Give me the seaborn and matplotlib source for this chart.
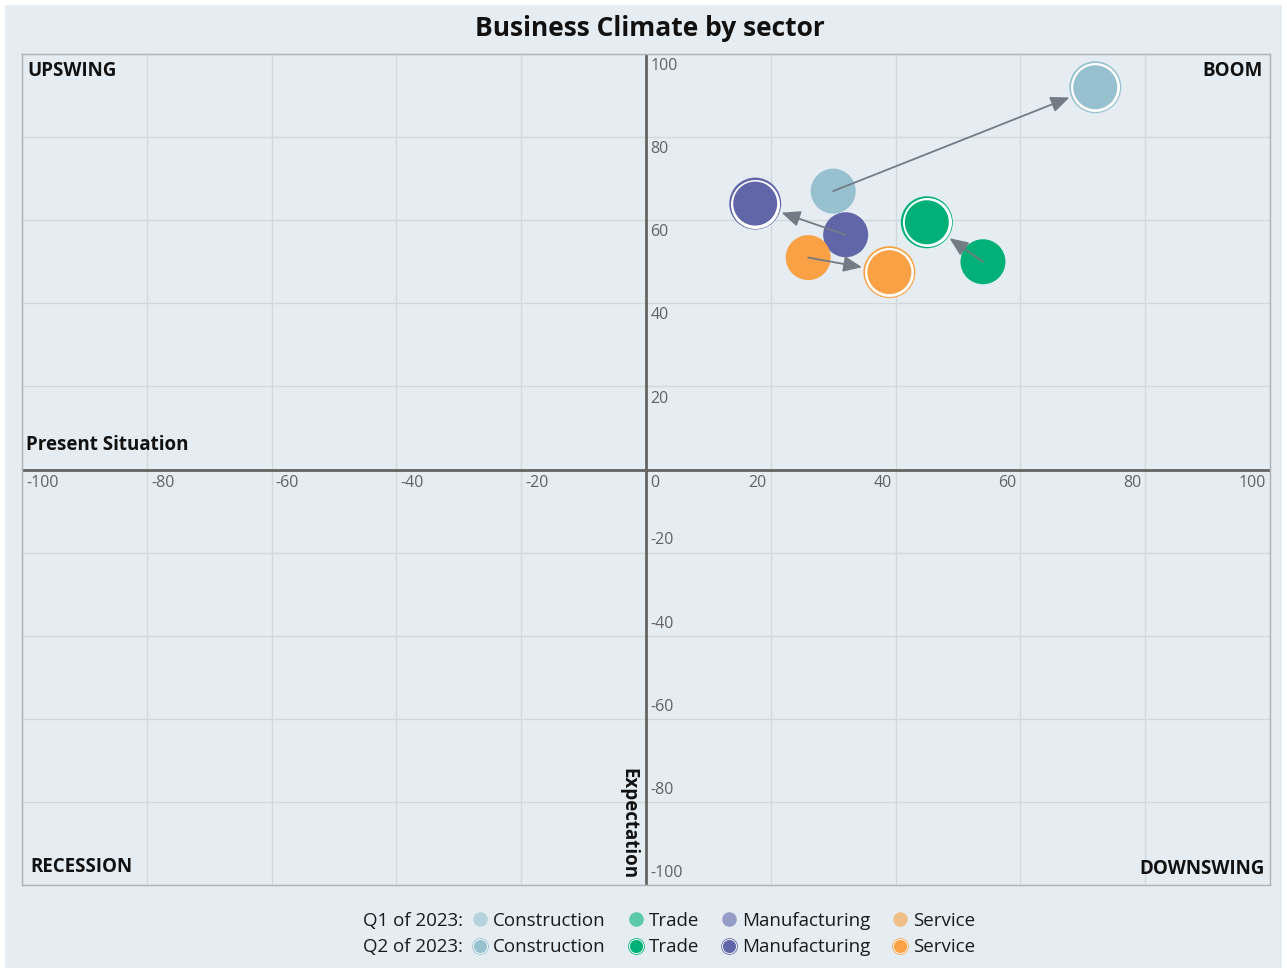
import pandas as pd
import matplotlib.pyplot as plt
import seaborn as sns
from matplotlib.lines import Line2D
from matplotlib.patches import Rectangle
from matplotlib.legend_handler import HandlerTuple

# Business climate: present situation (x) vs expectation (y)
sectors = ["Construction", "Trade", "Manufacturing", "Service"]
colors = ["#97c1cf", "#00b077", "#6066a8", "#f9a144"]
q1_situation = [30, 54, 32, 26]
q1_expectation = [67, 50, 56.5, 51]
q2_situation = [72, 45, 17.5, 39]
q2_expectation = [92, 59.5, 64, 47.5]
ticks = list(range(-100, 101, 20))
tick_labels = [str(t) for t in ticks]
periods = ["Q1 of 2023:", "Q2 of 2023:"]

q1 = pd.DataFrame({"sector": sectors, "x": q1_situation, "y": q1_expectation})
q2 = pd.DataFrame({"sector": sectors, "x": q2_situation, "y": q2_expectation})
palette = dict(zip(sectors, colors))

sns.set_style("white")
plt.rcParams["font.family"] = ["Open Sans", "DejaVu Sans"]

bg = "#e5edf2"
fig = plt.figure(figsize=(12.87, 9.73), dpi=100, facecolor="white")
fig.patches.append(Rectangle((5 / 1287, 5 / 973), 1 - 10 / 1287, 1 - 10 / 973,
                             transform=fig.transFigure, facecolor=bg,
                             edgecolor="none", zorder=-10))
ax = fig.add_axes([22 / 1287, 88 / 973, 1248 / 1287, 831 / 973])
ax.set_facecolor(bg)
ax.set_xlim(-100, 100)
ax.set_ylim(-100, 100)
ax.set_xticks(ticks)
ax.set_yticks(ticks)
ax.tick_params(length=0, labelbottom=False, labelleft=False)
ax.grid(True, color="#d2d9dc", lw=1)
ax.set_axisbelow(True)
for sp in ax.spines.values():
    sp.set_color("#aeb3b6")
    sp.set_linewidth(1)

ax.axhline(0, color="#646464", lw=2, zorder=1.5)
ax.axvline(0, color="#646464", lw=2, zorder=1.5)

# tick labels along the zero axes
tick_kw = dict(textcoords="offset points", fontsize=11.5, color="#626262")
for t, lab in zip(ticks, tick_labels):
    if t > 0:
        ax.annotate(lab, (t, 0), xytext=(-3, -4), ha="right", va="top", **tick_kw)
    else:
        ax.annotate(lab, (t, 0), xytext=(3, -4), ha="left", va="top", **tick_kw)
    if t > 0:
        ax.annotate(lab, (0, t), xytext=(3, -3), ha="left", va="top", **tick_kw)
    elif t < 0:
        ax.annotate(lab, (0, t), xytext=(3, 3), ha="left", va="bottom", **tick_kw)

# bubbles
sns.scatterplot(data=q1, x="x", y="y", hue="sector", palette=palette, s=1050,
                linewidth=0, legend=False, ax=ax, zorder=2)
sns.scatterplot(data=q2, x="x", y="y", hue="sector", palette=palette, s=1400,
                linewidth=0, legend=False, ax=ax, zorder=4)
ax.scatter(q2["x"], q2["y"], s=1245, c="white", linewidths=0, zorder=4.1)
sns.scatterplot(data=q2, x="x", y="y", hue="sector", palette=palette, s=1004,
                linewidth=0, legend=False, ax=ax, zorder=4.2)
ax.set_xlabel("")
ax.set_ylabel("")

for i in range(len(sectors)):
    ax.annotate("", xy=(q2_situation[i], q2_expectation[i]),
                xytext=(q1_situation[i], q1_expectation[i]),
                arrowprops=dict(arrowstyle="-|>,head_length=0.75,head_width=0.32",
                                color="#737c85", lw=1.3, shrinkA=0, shrinkB=20,
                                mutation_scale=15),
                zorder=3)

# quadrant and axis names
lab_kw = dict(textcoords="offset points", fontsize=13.5, fontweight="bold", color="#111111")
ax.annotate("UPSWING", (0, 1), xycoords="axes fraction", xytext=(4, -5), ha="left", va="top", **lab_kw)
ax.annotate("BOOM", (1, 1), xycoords="axes fraction", xytext=(-5, -5), ha="right", va="top", **lab_kw)
ax.annotate("RECESSION", (0, 0), xycoords="axes fraction", xytext=(6, 9), ha="left", va="baseline", **lab_kw)
ax.annotate("DOWNSWING", (1, 0), xycoords="axes fraction", xytext=(-4, 8), ha="right", va="baseline", **lab_kw)
ax.annotate("Present Situation", (-100, 0), xytext=(3, 14), ha="left", va="baseline", **lab_kw)
ax.annotate("Expectation", (0, -100), xytext=(-13, 4), ha="center", va="bottom", rotation=-90, **lab_kw)

fig.text(650 / 1287, 1 - 28 / 973, "Business Climate by sector", ha="center", va="center",
         fontsize=19, fontweight="bold", color="#111111")

# legend: one entry per sector for each quarter, row names on the left
handles = []
labels = []
for s, c in zip(sectors, colors):
    h1 = Line2D([], [], linestyle="none", marker="o", markersize=10.5,
                markerfacecolor=c, markeredgewidth=0, alpha=0.6)
    outer = Line2D([], [], linestyle="none", marker="o", markersize=12,
                   markerfacecolor=c, markeredgewidth=0)
    mid = Line2D([], [], linestyle="none", marker="o", markersize=10.8,
                 markerfacecolor="white", markeredgewidth=0)
    inner = Line2D([], [], linestyle="none", marker="o", markersize=9.5,
                   markerfacecolor=c, markeredgewidth=0)
    handles += [h1, (outer, mid, inner)]
    labels += [s, s]
fig.legend(handles, labels, ncol=4, loc="center", bbox_to_anchor=(724 / 1287, 1 - 934 / 973),
           frameon=False, fontsize=13.5, handlelength=0.8, handletextpad=0.3,
           columnspacing=1.2, labelspacing=0.45, labelcolor="#1a1a1a",
           handler_map={tuple: HandlerTuple(ndivide=1)})
for period, ypx in zip(periods, [921, 947]):
    fig.text(463 / 1287, 1 - ypx / 973, period, ha="right", va="center",
             fontsize=13.5, color="#1a1a1a")

fig.savefig("out.png", dpi=100, facecolor="white")
